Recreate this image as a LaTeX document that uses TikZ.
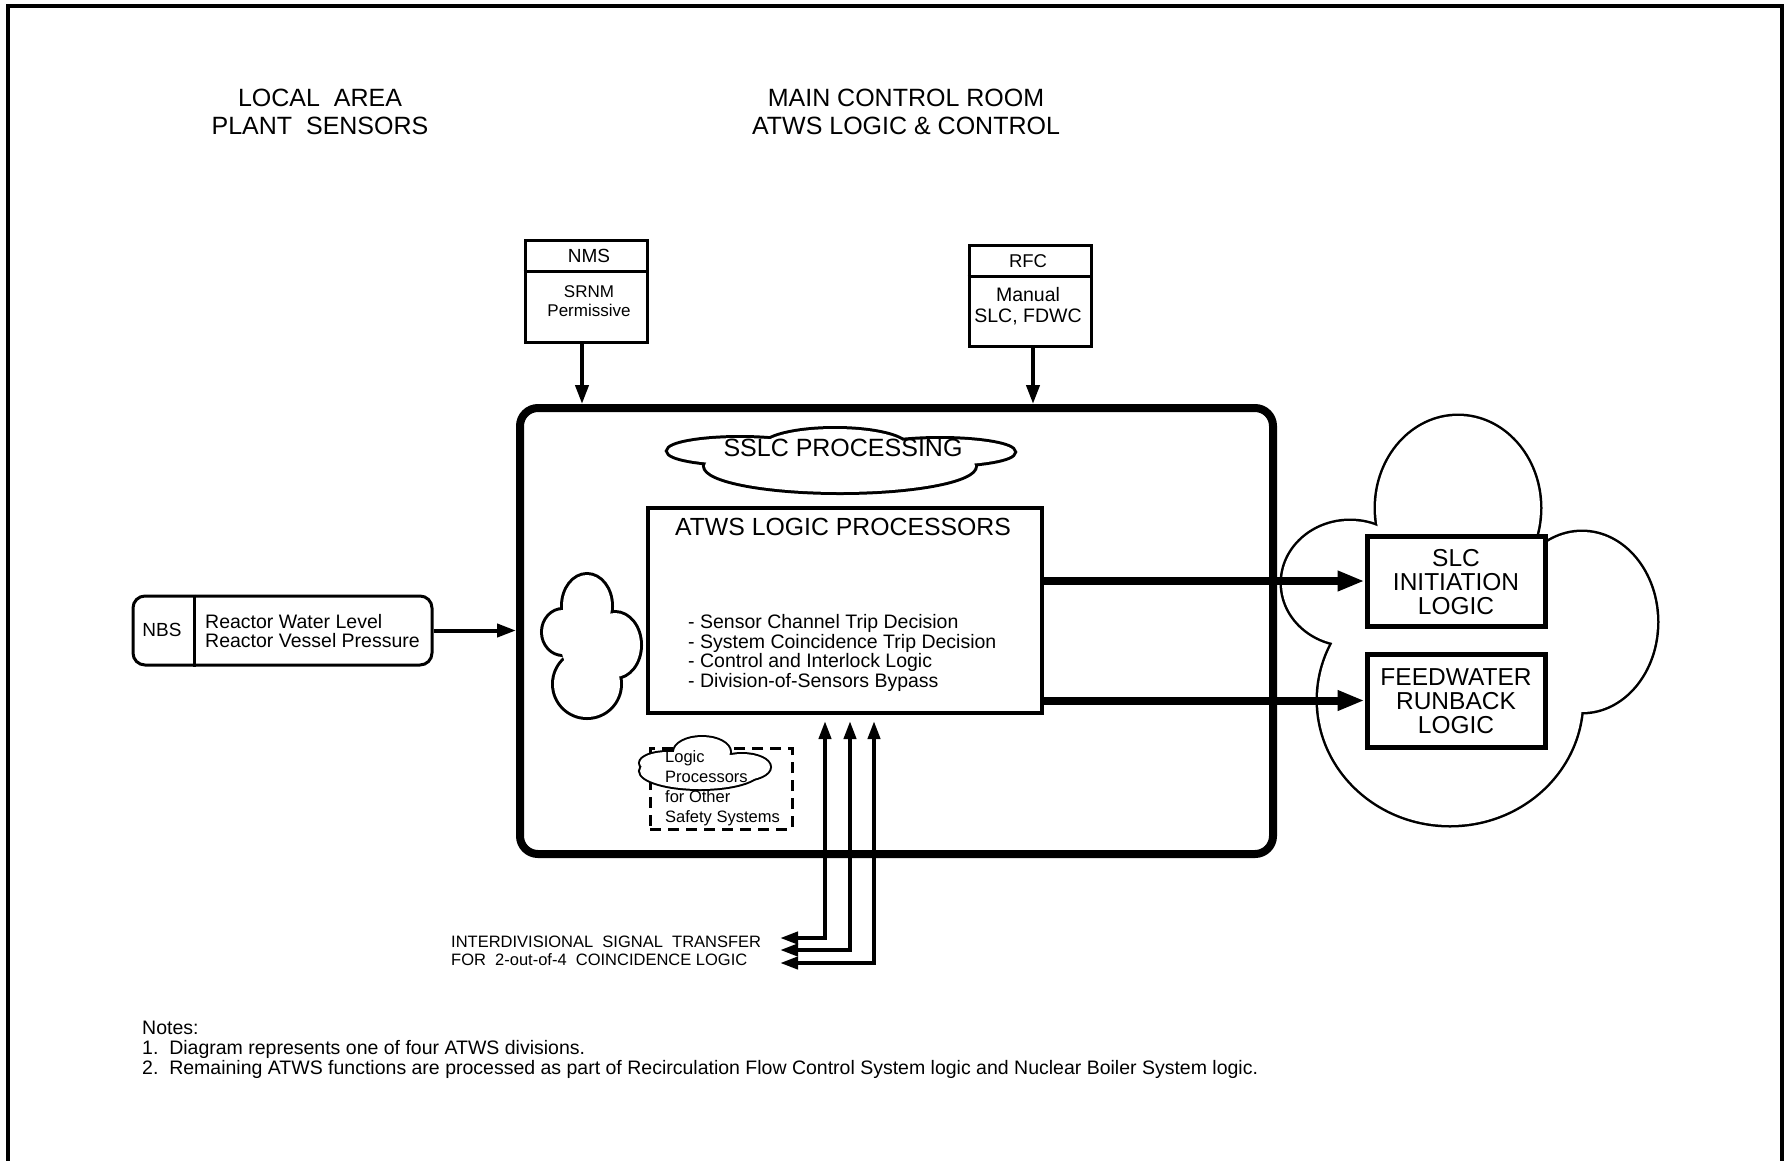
\documentclass[tikz,border=0pt]{standalone}
\usepackage{fontspec}
\setmainfont{Liberation Sans}
\usetikzlibrary{arrows.meta}
\newcommand\fsz[2]{\fontsize{#1}{#2}\selectfont}
% #1 doubled outline width, #2 outline ellipses, #3 filler ellipses (fill only)
\newcommand\mycloud[3]{%
  \foreach \cx/\cy/\rx/\ry in {#2} {\draw[line width=#1] (\cx,\cy) ellipse [x radius=\rx, y radius=\ry];}
  \foreach \cx/\cy/\rx/\ry in {#2,#3} {\fill[white] (\cx,\cy) ellipse [x radius=\rx, y radius=\ry];}
}
\begin{document}
\begin{tikzpicture}[x=1pt,y=-1pt,
  txt/.style={inner sep=0, align=center},
  box/.style={draw, line width=3, inner sep=0},
  arr/.style={line width=4, -{Triangle[length=19pt,width=13pt]}},
  bigarr/.style={line width=8, -{Triangle[length=27pt,width=19pt]}},
  tri/.style={line width=4, {Triangle[length=18pt,width=12pt]}-{Triangle[length=18pt,width=12pt]}}
]
\useasboundingbox (0,0) rectangle (1786,1160);
% frame
\draw[line width=3.5] (8,1170) -- (8,6) -- (1782,6) -- (1782,1170);

% headings
\node[txt, font=\fsz{25}{28}] (hloc) at (320,112) {LOCAL\ \ AREA\\PLANT\ \ SENSORS};
\node[txt, font=\fsz{25}{28}] (hmcr) at (906,112) {MAIN CONTROL ROOM\\ATWS LOGIC \& CONTROL};

% NMS / RFC boxes
\node[box, minimum width=122, minimum height=102] (nms) at (586,291) {};
\draw[line width=3] (nms.west |- 0,271) -- (nms.east |- 0,271);
\node[txt, font=\fsz{19}{20}] (nmsl) at (589,256) {NMS};
\node[txt, font=\fsz{17}{19.5}] (srnm) at (589,301) {SRNM\\Permissive};

\node[box, minimum width=122, minimum height=101] (rfc) at (1030,295.5) {};
\draw[line width=3] (rfc.west |- 0,276) -- (rfc.east |- 0,276);
\node[txt, font=\fsz{18.5}{20}] (rfcl) at (1028,261) {RFC};
\node[txt, font=\fsz{19.5}{21.5}] (man) at (1028,306) {Manual\\SLC, FDWC};

% main box
\node[draw, line width=8, rounded corners=18, minimum width=753, minimum height=446, inner sep=0] (main) at (896.5,631) {};

% NBS box
\node[box, rounded corners=12, minimum width=299, minimum height=69] (nbs) at (282.5,630.5) {};
\draw[line width=3] (194,0 |- nbs.north) -- (194,0 |- nbs.south);
\node[txt, font=\fsz{19}{20}] (nbsl) at (162,630) {NBS};
\node[txt, align=left, anchor=west, font=\fsz{19.5}{19.5}] (rwl) at (205,631) {Reactor Water Level\\Reactor Vessel Pressure};

% SSLC cloud
\mycloud{6}{740/451/72/13, 940/452/74/13, 835/447/72/18, 840/466/135/26}{840/456/150/14}
\node[txt, font=\fsz{25}{26}] (sslc) at (843,448) {SSLC PROCESSING};

% left cloud
\mycloud{6}{587/606/24/31, 563/632/20/22, 615/645/25/32, 587/684/33/33}{589/645/28/32}

% ATWS box
\node[box, line width=3.5, minimum width=394, minimum height=205] (atws) at (845,610.5) {};
\node[txt, font=\fsz{24.8}{26}] (atwst) at (843,527) {ATWS LOGIC PROCESSORS};
\node[txt, align=left, anchor=west, font=\fsz{19.5}{19.8}] (bul) at (688,653) {- Sensor Channel Trip Decision\\- System Coincidence Trip Decision\\- Control and Interlock Logic\\- Division-of-Sensors Bypass};

% dashed box with small cloud
\node[draw, line width=3, dash pattern=on 11pt off 7pt, minimum width=142, minimum height=81, inner sep=0] (dbox) at (721,788.5) {};
\mycloud{4}{700/771/60/18, 702/752/28/15, 668/763/28/11, 742/767/28/13}{705/767/50/14}
\node[txt, align=left, anchor=west, font=\fsz{16.5}{20}] (lps) at (665,788) {Logic\\Processors\\for Other\\Safety Systems};

% big right cloud
\mycloud{5}{1458/508/82/92, 1350/583/68/62, 1582/622/75/90, 1450/700/132/125}{1465/630/130/110}

% SLC / FW boxes
\node[box, line width=5, minimum width=178, minimum height=90] (slc) at (1456,581) {};
\node[txt, font=\fsz{24.5}{24}] (slct) at (1456,582) {SLC\\INITIATION\\LOGIC};
\node[box, line width=5, minimum width=178, minimum height=93] (fw) at (1456,700.5) {};
\node[txt, font=\fsz{24.5}{24}] (fwt) at (1456,701) {FEEDWATER\\RUNBACK\\LOGIC};

% arrows
\draw[arr] ([xshift=-4pt]nms.south) -- ([xshift=-4pt]nms.south |- main.north);
\draw[arr] ([xshift=3pt]rfc.south) -- ([xshift=3pt]rfc.south |- main.north);
\draw[arr] (nbs.east) -- (nbs.east -| main.west);
\draw[bigarr] (atws.east |- slc.west) -- (slc.west);
\draw[bigarr] (atws.east |- fw.west) -- (fw.west);

% interdivisional arrows
\coordinate (t1) at (825,721);
\coordinate (t2) at (850,721);
\coordinate (t3) at (874,721);
\coordinate (l1) at (780,938);
\coordinate (l2) at (780,950);
\coordinate (l3) at (780,963);
\draw[tri] (t1) |- (l1);
\draw[tri] (t2) |- (l2);
\draw[tri] (t3) |- (l3);
\node[txt, align=left, anchor=west, font=\fsz{16.5}{17.5}] (idst) at (451,951) {INTERDIVISIONAL\ \ SIGNAL\ \ TRANSFER\\FOR\ \ 2-out-of-4\ \ COINCIDENCE LOGIC};

% notes
\node[txt, align=left, anchor=west, font=\fsz{19.5}{20}] (notes) at (142,1050) {Notes:\\1.\ \ Diagram represents one of four ATWS divisions.\\2.\ \ Remaining ATWS functions are processed as part of Recirculation Flow Control System logic and Nuclear Boiler System logic.};
\end{tikzpicture}
\end{document}
